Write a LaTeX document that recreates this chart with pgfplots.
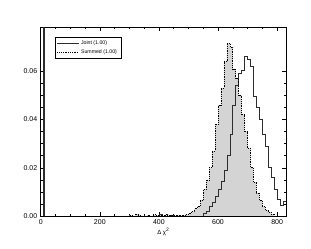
\documentclass[border=0pt]{standalone}
\usepackage{pgfplots}
\pgfplotsset{compat=1.18}
\usepackage{fontspec}
\setmainfont{Liberation Sans}
\definecolor{fillgray}{RGB}{212,212,212}
\definecolor{jointcol}{RGB}{45,45,45}
\begin{document}
\begin{tikzpicture}
\useasboundingbox (-40.7pt,-33pt) rectangle (270.3pt,216pt);
\begin{axis}[
  at={(0,0)}, anchor=south west,
  scale only axis, width=245.3pt, height=188.7pt,
  xmin=0, xmax=830, ymin=0, ymax=0.0782,
  xtick={0,200,...,800}, minor x tick num=3,
  ytick={0,0.02,0.04,0.06}, minor y tick num=3,
  yticklabel style={/pgf/number format/fixed, /pgf/number format/fixed zerofill, /pgf/number format/precision=2},
  scaled y ticks=false,
  /pgf/number format/assume math mode=true,
  tick align=inside, major tick length=4pt, minor tick length=2pt,
  tick style={black, line width=0.4pt},
  axis line style={line width=0.5pt},
  ticklabel style={font=\fontsize{7}{8}\selectfont},
  xlabel={\fontsize{6}{7}\selectfont Δ χ\textsuperscript{2}},
  xlabel style={yshift=3pt},
  clip=true,
  legend image code/.code={\draw[#1] (0cm,0cm) -- (0.75cm,0cm);},
  legend style={at={(0.058,0.949)}, anchor=north west, draw=black, line width=0.4pt,
    font=\fontsize{5.2}{6}\selectfont, inner xsep=2pt, inner ysep=1.5pt, row sep=-0.5pt,
    cells={anchor=west}},
  legend cell align=left,
]
% Summed fill
\addplot[fill=fillgray, draw=none, const plot, forget plot] coordinates {
(250,0)(300,0.0003)(310,0)(320,0.0009)(330,0.0003)(340,0)(360,0.0003)(370,0)(380,0.0005)(390,0.0002)(400,0.0004)(410,0.0001)(420,0.0006)(430,0.0002)(440,0.0002)(450,0.0001)(460,0.0003)(470,0.0001)
(480,0.0003)(490,0.0006)(500,0.001)(510,0.0018)(520,0.003)(530,0.004)(540,0.0067)(550,0.011)(560,0.015)(570,0.020)(580,0.027)(590,0.038)(600,0.046)(610,0.053)(620,0.064)(630,0.0715)(640,0.070)(650,0.061)(660,0.057)(670,0.050)(680,0.042)(690,0.035)(700,0.028)(710,0.020)(720,0.014)(730,0.0095)(740,0.0066)(750,0.004)(760,0.0025)(770,0.0015)(780,0.0008)(790,0)
} \closedcycle;
% Joint
\addplot[jointcol, line width=0.6pt, const plot] coordinates {
(0,0)(8,0.2)(13,0)(400,0.0008)(410,0)
(550,0.001)(560,0.002)(570,0.004)(580,0.0055)(590,0.008)(600,0.011)(610,0.0145)(620,0.019)(630,0.025)(640,0.034)(650,0.046)(660,0.054)(670,0.059)(680,0.0605)(690,0.066)(700,0.065)(710,0.062)(720,0.0495)(730,0.045)(740,0.040)(750,0.034)(760,0.029)(770,0.020)(780,0.016)(790,0.011)(800,0.007)(810,0.0046)(820,0.006)(830,0.006)
};
\addlegendentry{Joint (1.00)}
% Summed outline
\addplot[black, line width=0.6pt, dash pattern=on 0.6pt off 1.2pt, const plot] coordinates {
(0,0)(300,0.0003)(310,0)(320,0.0009)(330,0.0003)(340,0)(360,0.0003)(370,0)(380,0.0005)(390,0.0002)(400,0.0004)(410,0.0001)(420,0.0006)(430,0.0002)(440,0.0002)(450,0.0001)(460,0.0003)(470,0.0001)
(480,0.0003)(490,0.0006)(500,0.001)(510,0.0018)(520,0.003)(530,0.004)(540,0.0067)(550,0.011)(560,0.015)(570,0.020)(580,0.027)(590,0.038)(600,0.046)(610,0.053)(620,0.064)(630,0.0715)(640,0.070)(650,0.061)(660,0.057)(670,0.050)(680,0.042)(690,0.035)(700,0.028)(710,0.020)(720,0.014)(730,0.0095)(740,0.0066)(750,0.004)(760,0.0025)(770,0.0015)(780,0.0008)(790,0)(830,0)
};
\addlegendentry{Summed (1.00)}
\end{axis}
\end{tikzpicture}
\end{document}
